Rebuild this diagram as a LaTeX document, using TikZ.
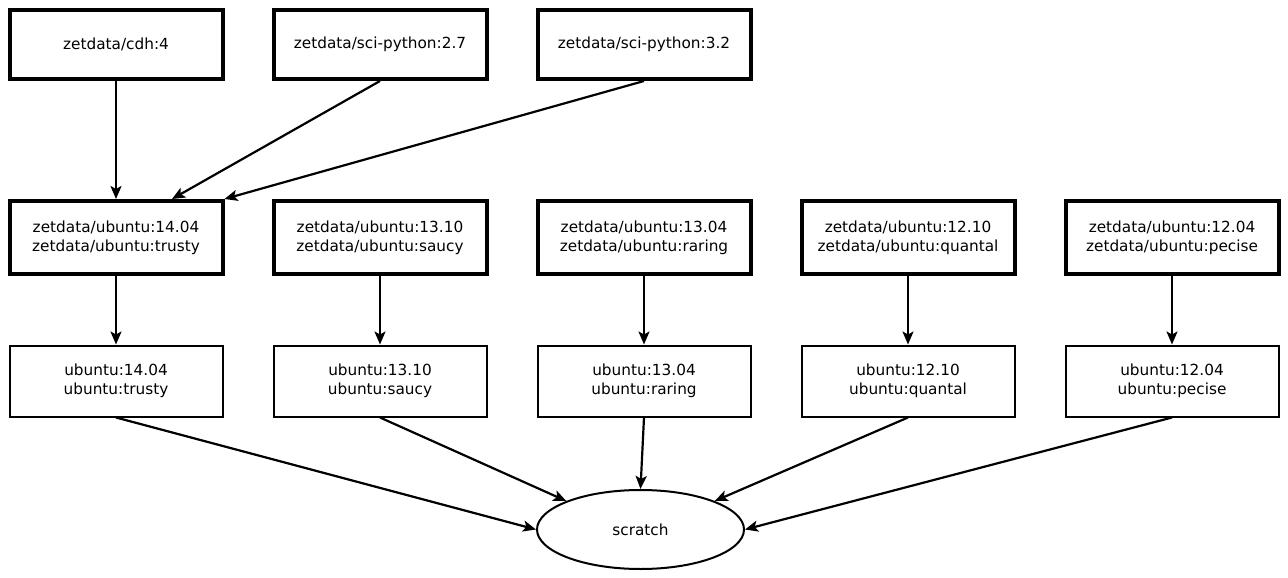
\documentclass[tikz,border=0pt]{standalone}
\usepackage{fontspec}
\setmainfont{DejaVu Sans}
\usetikzlibrary{arrows.meta,shapes.geometric}
\usetikzlibrary{positioning}

\begin{document}
\begin{tikzpicture} [every node/.style={draw,rectangle,minimum width=213pt,minimum height=69pt,align=center,inner sep=0pt,font=\fontsize{15.3}{19}\selectfont},
  img/.style={line width=4pt},
  tall/.style={img,minimum height=73pt},
  base/.style={line width=2pt,minimum height=71pt},
  every path/.style={line width=2.2pt},
  edge/.style={-{Stealth[length=13pt,width=11pt,inset=3pt]}},
  on grid,node distance=193pt and 264pt]
\useasboundingbox (0,0) rectangle (1288pt,-578pt);
\node[img] (cdh) at (116pt,-44.5pt) {zetdata/cdh:4};
\node[img] (py27) [right=of cdh] {zetdata/sci-python:2.7};
\node[img] (py32) [right=of py27] {zetdata/sci-python:3.2};

\node[tall] (z1404) [below=of cdh] {zetdata/ubuntu:14.04\\zetdata/ubuntu:trusty};
\node[tall] (z1310) [right=of z1404] {zetdata/ubuntu:13.10\\zetdata/ubuntu:saucy};
\node[tall] (z1304) [right=of z1310] {zetdata/ubuntu:13.04\\zetdata/ubuntu:raring};
\node[tall] (z1210) [right=of z1304] {zetdata/ubuntu:12.10\\zetdata/ubuntu:quantal};
\node[tall] (z1204) [right=of z1210] {zetdata/ubuntu:12.04\\zetdata/ubuntu:pecise};

\node[base] (u1404) [below=143.5pt of z1404] {ubuntu:14.04\\ubuntu:trusty};
\node[base] (u1310) [right=of u1404] {ubuntu:13.10\\ubuntu:saucy};
\node[base] (u1304) [right=of u1310] {ubuntu:13.04\\ubuntu:raring};
\node[base] (u1210) [right=of u1304] {ubuntu:12.10\\ubuntu:quantal};
\node[base] (u1204) [right=of u1210] {ubuntu:12.04\\ubuntu:pecise};

\node[ellipse,base,minimum width=207pt,minimum height=79pt] (scratch) [below=148.5pt of u1304,xshift=-3.5pt] {scratch};

\draw[edge](cdh.south)--(z1404.north);
\draw[edge](py27.south)--([xshift=56pt]z1404.north);
\draw[edge](py32.south)--(z1404.north east);

\draw[edge](z1404)--(u1404);
\draw[edge](z1310)--(u1310);
\draw[edge](z1304)--(u1304);
\draw[edge](z1210)--(u1210);
\draw[edge](z1204)--(u1204);

\draw[edge](u1404.south)--(scratch.west);
\draw[edge](u1310.south)--(scratch.159);
\draw[edge](u1304.south)--(scratch.north);
\draw[edge](u1210.south)--(scratch.21);
\draw[edge](u1204.south)--(scratch.east);
\end{tikzpicture}
\end{document}
